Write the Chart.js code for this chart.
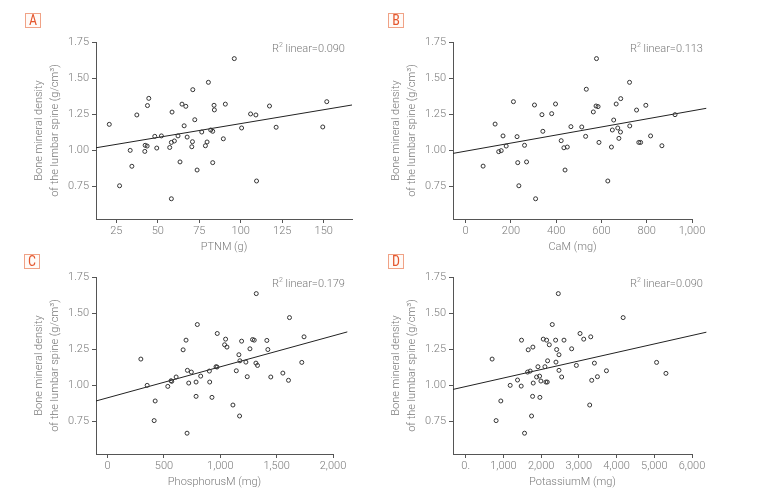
<!DOCTYPE html>
<html>
<head>
<meta charset="utf-8">
<script src="https://cdn.jsdelivr.net/npm/chart.js@4.4.0/dist/chart.umd.min.js"></script>
<style>
  body { margin: 0; background: #fff; }
  #wrap { position: relative; width: 760px; height: 499px; overflow: hidden; font-family: Roboto, "Liberation Sans", sans-serif; }
  #wrap canvas { position: absolute; left: 0; top: 0; }
  .tag { position: absolute; width: 14px; height: 13px; border: 1px solid #f0a286; background: #fffaf7;
         color: #e4572e; font: 14px/13px "Liberation Sans Narrow", "Roboto Condensed", sans-serif; text-align: center; }
  .r2 { position: absolute; color: #7a7a7a; font-size: 11px; font-weight: 300; line-height: 14px; white-space: nowrap; }
  .r2 sup { font-size: 7px; vertical-align: 5px; line-height: 0; }
</style>
</head>
<body>
<div id="wrap">
  <canvas id="chartA" width="760" height="499"></canvas>
  <canvas id="chartB" width="760" height="499"></canvas>
  <canvas id="chartC" width="760" height="499"></canvas>
  <canvas id="chartD" width="760" height="499"></canvas>
  <div class="tag" style="left:25px;top:13px">A</div>
  <div class="tag" style="left:388px;top:13px">B</div>
  <div class="tag" style="left:24px;top:254px">C</div>
  <div class="tag" style="left:388px;top:254px">D</div>
  <div class="r2" style="left:272px;top:42px">R<sup>2</sup> linear=0.090</div>
  <div class="r2" style="left:630px;top:42px">R<sup>2</sup> linear=0.113</div>
  <div class="r2" style="left:272px;top:277px">R<sup>2</sup> linear=0.179</div>
  <div class="r2" style="left:630px;top:277px">R<sup>2</sup> linear=0.090</div>
</div>
<script>
// bone mineral density axis (shared)
const yTicks = [0.75, 1.00, 1.25, 1.50, 1.75];
const yMin = 0.525;
const yMax = 1.75;
const yTitle = ['Bone mineral density', 'of the lumbar spine (g/cm³)'];

// A - PTNM (g)
const ptnm = [20.8, 27, 33.4, 34.4, 37.4, 42.2, 42.4, 43.6, 43.8, 44.6, 48.2, 49.4, 52.2, 57.2, 58.2, 58.6, 58.2, 60, 62.2, 63.4,
  64.6, 66.9, 65.9, 67.7, 70.5, 70.9, 71.1, 72.3, 73.7, 76.5, 78.7, 79.7, 80.5, 81.9, 83.1, 83.1, 83.9, 84.1, 89.5, 90.7,
  96.1, 100.5, 105.9, 109.1, 109.5, 117.3, 121.3, 149.4, 151.8];
const bmdA = [1.18, 0.755, 1.0, 0.89, 1.245, 0.993, 1.035, 1.03, 1.31, 1.36, 1.097, 1.016, 1.10, 1.02, 1.055, 1.265, 0.665, 1.065, 1.10, 0.92,
  1.32, 1.305, 1.17, 1.092, 1.025, 1.06, 1.42, 1.212, 0.864, 1.127, 1.032, 1.058, 1.471, 1.141, 1.132, 0.915, 1.312, 1.28, 1.08, 1.32,
  1.635, 1.155, 1.252, 1.245, 0.788, 1.307, 1.16, 1.162, 1.337];
const fitXA = [12.8, 167];
const fitYA = [1.018, 1.314];
const xTicksA = [25, 50, 75, 100, 125, 150];
const xLabelsA = ['25', '50', '75', '100', '125', '150'];

// B - CaM (mg)
const cam = [77, 130, 146, 157, 165, 179, 211, 227, 230, 235, 260, 269, 304, 309, 337, 341, 380, 397, 422, 434,
  439, 449, 465, 513, 530, 533, 564, 578, 576, 585, 589, 628, 644, 648, 654, 665, 672, 677, 684, 685,
  724, 725, 755, 765, 773, 796, 817, 867, 925];
const bmdB = [0.891, 1.182, 0.991, 0.998, 1.10, 1.03, 1.337, 1.095, 0.915, 0.755, 1.035, 0.92, 1.314, 0.665, 1.247, 1.132, 1.254, 1.321, 1.067, 1.018,
  0.864, 1.023, 1.164, 1.162, 1.097, 1.423, 1.266, 1.635, 1.307, 1.303, 1.055, 0.788, 1.023, 1.141, 1.21, 1.321, 1.155, 1.083, 1.127, 1.358,
  1.471, 1.169, 1.279, 1.055, 1.055, 1.312, 1.10, 1.032, 1.247];
const fitXB = [-56, 1063];
const fitYB = [0.979, 1.291];
const xTicksB = [0, 200, 400, 600, 800, 1000];
const xLabelsB = ['0', '200', '400', '600', '800', '1,000'];

// C - PhosphorusM (mg)
const phos = [295, 351, 413, 422, 534, 563, 569, 608, 670, 696, 705, 708, 720, 743, 785, 785, 796, 826, 903, 906,
  926, 962, 971, 973, 1038, 1047, 1059, 1112, 1142, 1165, 1174, 1171, 1189, 1227, 1239, 1263, 1286, 1301, 1319, 1316,
  1330, 1413, 1422, 1448, 1555, 1605, 1614, 1723, 1743];
const bmdC = [1.182, 1.0, 0.756, 0.892, 0.993, 1.032, 1.028, 1.058, 1.246, 1.313, 0.669, 1.104, 1.016, 1.092, 1.023, 0.924, 1.421, 1.064, 1.099, 1.023,
  0.917, 1.129, 1.127, 1.359, 1.281, 1.32, 1.265, 0.864, 1.101, 1.212, 1.17, 0.788, 1.306, 1.161, 1.06, 1.253, 1.317, 1.313, 1.635, 1.154,
  1.138, 1.311, 1.248, 1.058, 1.085, 1.035, 1.469, 1.159, 1.336];
const fitXC = [-103, 2127];
const fitYC = [0.892, 1.370];
const xTicksC = [0, 500, 1000, 1500, 2000];
const xLabelsC = ['0', '500', '1,000', '1,500', '2,000'];

// D - PotassiumM (mg)
const pot = [700, 806, 931, 1179, 1374, 1471, 1480, 1560, 1640, 1657, 1710, 1746, 1773, 1781, 1790, 1879, 1915, 1959, 1967, 1994,
  2056, 2100, 2127, 2145, 2162, 2171, 2216, 2295, 2384, 2393, 2411, 2455, 2473, 2473, 2544, 2606, 2809, 2934, 3031, 3129,
  3288, 3315, 3341, 3412, 3492, 3731, 4174, 5061, 5309];
const bmdD = [1.182, 0.756, 0.892, 1.0, 1.037, 0.995, 1.313, 0.669, 1.092, 1.246, 1.099, 0.788, 0.924, 1.265, 1.016, 1.058, 1.129, 1.064, 0.917, 1.03,
  1.32, 1.129, 1.023, 1.313, 1.023, 1.17, 1.281, 1.421, 1.313, 1.161, 1.248, 1.635, 1.212, 1.104, 1.058, 1.313, 1.253, 1.138, 1.359, 1.32,
  0.864, 1.336, 1.035, 1.154, 1.06, 1.101, 1.469, 1.159, 1.083];
const fitXD = [-337, 6381];
const fitYD = [0.972, 1.368];
const xTicksD = [0, 1000, 2000, 3000, 4000, 5000, 6000];
const xLabelsD = ['0.', '1,000', '2,000', '3,000', '4,000', '5,000', '6,000'];

Chart.defaults.font.family = 'Roboto, "Liberation Sans", sans-serif';
Chart.defaults.font.size = 11;
Chart.defaults.font.weight = 300;
Chart.defaults.color = '#7a7a7a';

const axisColor = '#555';

function zip(xs, ys) {
  return xs.map((x, i) => ({ x: x, y: ys[i] }));
}

function makePanel(id, xs, ys, fitX, fitY, xMin, xMax, xTicks, xLabels, xTitle, pad) {
  new Chart(document.getElementById(id), {
    type: 'scatter',
    data: {
      datasets: [{
        data: zip(xs, ys),
        pointRadius: 2,
        pointBorderWidth: 1,
        borderColor: '#333',
        backgroundColor: 'rgba(255,255,255,0)'
      }, {
        data: zip(fitX, fitY),
        showLine: true,
        pointRadius: 0,
        borderColor: '#222',
        borderWidth: 1,
        clip: false
      }]
    },
    options: {
      responsive: false,
      animation: false,
      devicePixelRatio: 1,
      layout: { padding: pad },
      plugins: { legend: { display: false }, tooltip: { enabled: false } },
      scales: {
        x: {
          type: 'linear',
          min: xMin,
          max: xMax,
          afterBuildTicks: s => { s.ticks = xTicks.map(v => ({ value: v })); },
          afterFit: s => { s.height = 35; },
          ticks: { callback: (v, i) => xLabels[i], padding: 2, maxRotation: 0, autoSkip: false },
          grid: { drawOnChartArea: false, tickLength: 4, color: axisColor },
          border: { color: axisColor },
          title: { display: true, text: xTitle, padding: 0, font: { size: 11, lineHeight: 1.2 } }
        },
        y: {
          type: 'linear',
          min: yMin,
          max: yMax,
          afterBuildTicks: s => { s.ticks = yTicks.map(v => ({ value: v })); },
          afterFit: s => { s.width = 65; },
          ticks: { callback: v => v.toFixed(2), padding: 3 },
          grid: { drawOnChartArea: false, tickLength: 4, color: axisColor },
          border: { color: axisColor },
          title: { display: true, text: yTitle, padding: 0, font: { size: 11, lineHeight: 1.45 } }
        }
      }
    }
  });
}

makePanel('chartA', ptnm, bmdA, fitXA, fitYA, 12.8, 167, xTicksA, xLabelsA, 'PTNM (g)',
  { left: 31, top: 42, right: 408, bottom: 245 });
makePanel('chartB', cam, bmdB, fitXB, fitYB, -56, 1000, xTicksB, xLabelsB, 'CaM (mg)',
  { left: 388, top: 42, right: 68, bottom: 245 });
makePanel('chartC', phos, bmdC, fitXC, fitYC, -103, 2000, xTicksC, xLabelsC, 'PhosphorusM (mg)',
  { left: 31, top: 277, right: 427, bottom: 10 });
makePanel('chartD', pot, bmdD, fitXD, fitYD, -337, 6000, xTicksD, xLabelsD, 'PotassiumM (mg)',
  { left: 388, top: 277, right: 68, bottom: 10 });
</script>
</body>
</html>
